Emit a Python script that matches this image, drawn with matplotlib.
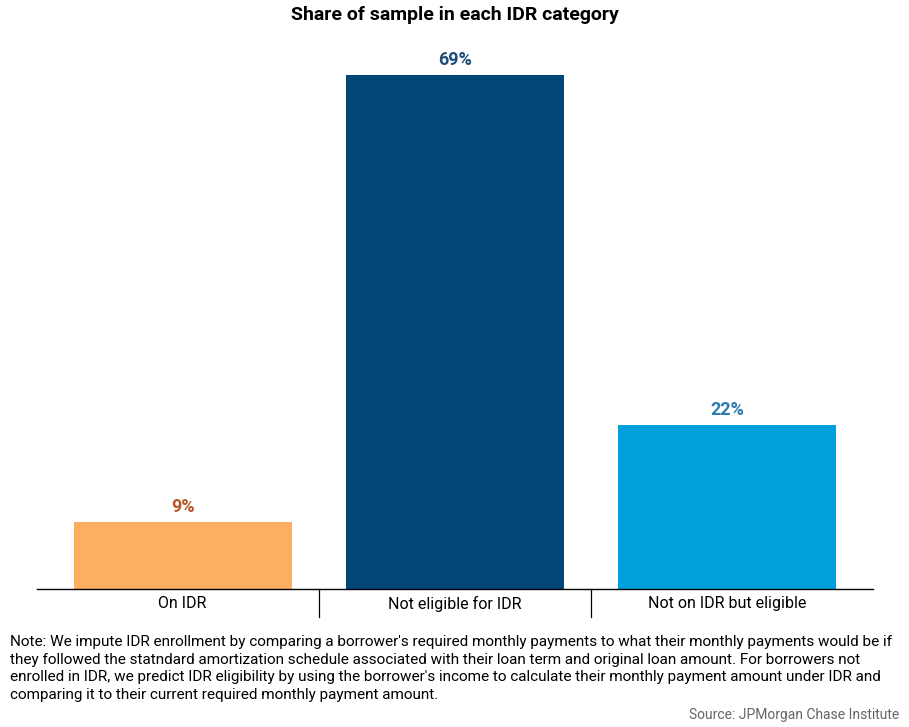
import numpy as np
import matplotlib.pyplot as plt

plt.rcParams['font.family'] = ['Roboto', 'DejaVu Sans']

# Data
categories = ['On IDR', 'Not eligible for IDR', 'Not on IDR but eligible']
shares = [9, 69, 22]
value_labels = ['9%', '69%', '22%']

bar_colors = ['#FDAE61', '#004677', '#00A0DD']
label_colors = ['#B9582B', '#1F4E79', '#2E7BAF']

note = ("Note: We impute IDR enrollment by comparing a borrower's required monthly payments to what their monthly payments would be if\n"
        "they followed the statndard amortization schedule associated with their loan term and original loan amount. For borrowers not\n"
        "enrolled in IDR, we predict IDR eligibility by using the borrower's income to calculate their monthly payment amount under IDR and\n"
        "comparing it to their current required monthly payment amount.")

fig = plt.figure(figsize=(9.09, 7.27), dpi=100)
ax = fig.add_axes([37 / 909, 1 - 589 / 727, 836 / 909, 559 / 727])

x = np.arange(len(categories))
bars = ax.bar(x, shares, width=0.8, color=bar_colors)

for b, lab, c in zip(bars, value_labels, label_colors):
    ax.annotate(lab, (b.get_x() + b.get_width() / 2, b.get_height()),
                xytext=(0, 4), textcoords='offset points', ha='center', va='bottom',
                fontsize=13, fontweight='bold', color=c)

ax.set_xlim(-0.535, 2.535)
ax.set_ylim(0, 75)
ax.set_yticks([])
for s in ['top', 'right', 'left']:
    ax.spines[s].set_visible(False)
ax.spines['bottom'].set_color('black')
ax.spines['bottom'].set_linewidth(1)

ax.set_xticks(x)
ax.set_xticklabels(categories, fontsize=11.5)
ax.tick_params(axis='x', length=0, pad=5)

# category separators below the axis
for sep in [0.5, 1.5]:
    ax.plot([sep, sep], [0, -28 / 7.45], color='black', lw=0.9, clip_on=False)

fig.text(0.5, 1 - 15 / 727, 'Share of sample in each IDR category', ha='center', va='center',
         fontsize=14, fontweight='bold')
nt = fig.text(10 / 909, 1 - 635 / 727, note, ha='left', va='top', fontsize=11, linespacing=1.32)
# shrink the note so its widest line spans the same width as in the reference
fig.canvas.draw()
w = nt.get_window_extent().width
nt.set_fontsize(11 * 883 / w)
fig.text(899 / 909, 1 - 715 / 727, 'Source: JPMorgan Chase Institute', ha='right', va='center',
         fontsize=10, color='#666666')

fig.savefig('out.png', dpi=100)
